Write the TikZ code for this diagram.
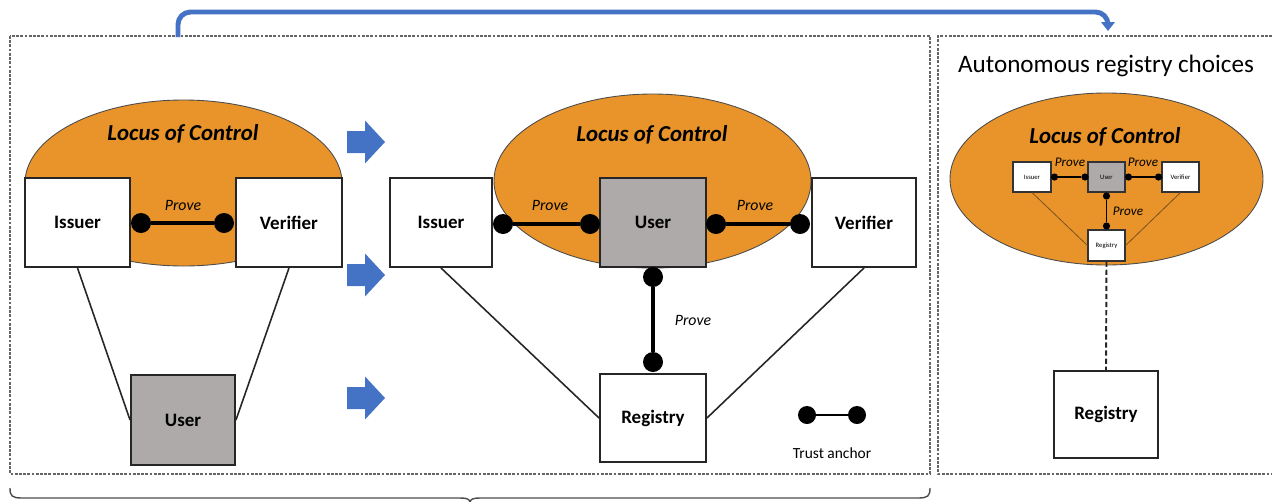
\documentclass[tikz,border=0pt]{standalone}
\usepackage{fontspec}
\setmainfont{Carlito}
\usetikzlibrary{arrows.meta}
\definecolor{locus}{RGB}{232,148,42}
\definecolor{usergrey}{RGB}{174,170,170}
\definecolor{flowblue}{RGB}{68,114,196}
\definecolor{thinbrown}{RGB}{120,80,30}
\newcommand\pxl{0.02cm}
\tikzset{
  box/.style={draw=black!85, line width=1.1pt, fill=white, inner sep=0pt,
    font=\fontsize{10.8}{12}\selectfont\bfseries},
  userbox/.style={box, fill=usergrey},
  smallbox/.style={draw=black!80, line width=0.6pt, fill=white, inner sep=0pt,
    font=\fontsize{3.8}{4}\selectfont},
  dot/.style={circle, fill=black, inner sep=0pt, minimum size=20*\pxl},
  smalldot/.style={circle, fill=black, inner sep=0pt, minimum size=7.2*\pxl},
  legdot/.style={circle, fill=black, inner sep=0pt, minimum size=18*\pxl},
  proveline/.style={line width=2.8pt},
  smallprove/.style={line width=1.1pt},
  provelabel/.style={font=\fontsize{9}{10}\selectfont\itshape},
  smalllabel/.style={font=\fontsize{7.5}{8}\selectfont\itshape},
  locustext/.style={font=\fontsize{13}{15}\selectfont\bfseries\itshape},
  locusfill/.style={fill=locus, draw=black!70, line width=0.5pt},
  tie/.style={line width=0.9pt, black!85},
  smalltie/.style={line width=0.45pt, thinbrown},
  panel/.style={line width=0.7pt, black!60, dash pattern=on 1.6pt off 0.8pt},
  blockarrow/.pic={\fill[flowblue] (0,-11) -- (18,-11) -- (18,-21.5) -- (38,0)
    -- (18,21.5) -- (18,11) -- (0,11) -- cycle;}
}
\begin{document}
\begin{tikzpicture}[x=0.02cm, y=-0.02cm]
\useasboundingbox (0,0) rectangle (1272,501);

% panel frames
\draw[panel] (10,36) rectangle (930,474);
\draw[panel] (1272,36) -- (938,36) -- (938,474) -- (1272,474);

% brace under the left panel
\draw[line width=0.8pt, black!70] (10,488) .. controls (10,496) and (12,498) .. (22,498)
  -- (460,498) .. controls (467,498) and (470,499) .. (470,503)
  .. controls (470,499) and (473,498) .. (480,498)
  -- (918,498) .. controls (928,498) and (930,496) .. (930,488);

% flow arrow from the left panel to the right panel
\coordinate (flowstart) at (178,37);
\coordinate (flowend) at (1108,31);
\draw[flowblue, line width=2.8pt, rounded corners=0.25cm,
  -{Triangle[width=7.5pt,length=5pt]}]
  (flowstart) -- (178,12) -- (1108,12) -- (flowend);

% ---------- first model ----------
\fill[locusfill] (183.5,183) ellipse [x radius=158.5, y radius=83];
\node[locustext] at (183,134) {Locus of Control};
\node[box, minimum width=105*\pxl, minimum height=89*\pxl] (iss1) at (77.5,222.5) {Issuer};
\node[box, minimum width=106*\pxl, minimum height=89*\pxl] (ver1) at (289,222.5) {Verifier};
\node[userbox, minimum width=104*\pxl, minimum height=90*\pxl] (usr1) at (183,420) {User};
\draw[tie] (iss1.south) -- (usr1.west);
\draw[tie] (ver1.south) -- (usr1.east);
\node[dot] (p1a) at (141,223) {};
\node[dot] (p1b) at (224,223) {};
\draw[proveline] (p1a) -- (p1b);
\node[provelabel] at (183,205) {Prove};

% transition arrows
\pic at (347,142) {blockarrow};
\pic at (347,275) {blockarrow};
\pic at (347,398) {blockarrow};

% ---------- second model ----------
\fill[locusfill] (652.5,181) ellipse [x radius=158.5, y radius=87];
\node[locustext] at (652,135) {Locus of Control};
\node[box, minimum width=102*\pxl, minimum height=89*\pxl] (iss2) at (441,222.5) {Issuer};
\node[userbox, minimum width=106*\pxl, minimum height=89*\pxl] (usr2) at (653,222.5) {User};
\node[box, minimum width=104*\pxl, minimum height=89*\pxl] (ver2) at (864,222.5) {Verifier};
\node[box, minimum width=106*\pxl, minimum height=88*\pxl] (reg2) at (653,418) {Registry};
\draw[tie] (iss2.south) -- (reg2.west);
\draw[tie] (ver2.south) -- (reg2.east);
\node[dot] (p2a) at (503,224) {};
\node[dot] (p2b) at (590,224) {};
\node[dot] (p2c) at (716,224) {};
\node[dot] (p2d) at (800,224) {};
\node[dot] (p2e) at (653,277) {};
\node[dot] (p2f) at (653,362) {};
\draw[proveline] (p2a) -- (p2b);
\draw[proveline] (p2c) -- (p2d);
\draw[proveline] (p2e) -- (p2f);
\node[provelabel] at (550,205) {Prove};
\node[provelabel] at (755,205) {Prove};
\node[provelabel] at (693,320) {Prove};

% legend
\node[legdot] (la) at (807,415) {};
\node[legdot] (lb) at (857,415) {};
\draw[line width=1.1pt] (la) -- (lb);
\node[font=\fontsize{8.8}{10}\selectfont] at (832,453) {Trust anchor};

% ---------- autonomous registry choices ----------
\node[font=\fontsize{14.3}{16}\selectfont] at (1106,66) {Autonomous registry choices};
\fill[locusfill] (1106.5,179) ellipse [x radius=156.5, y radius=86];
\node[locustext] at (1105,137) {Locus of Control};
\node[smallbox, minimum width=38*\pxl, minimum height=30*\pxl] (siss) at (1032,177) {Issuer};
\node[smallbox, fill=usergrey, minimum width=37*\pxl, minimum height=30*\pxl] (susr) at (1106.5,177) {User};
\node[smallbox, minimum width=37*\pxl, minimum height=30*\pxl] (sver) at (1180.5,177) {Verifier};
\node[smallbox, minimum width=37*\pxl, minimum height=31*\pxl] (sreg) at (1106.5,245.5) {Registry};
\draw[smalltie] (siss.south) -- (sreg.west);
\draw[smalltie] (sver.south) -- (sreg.east);
\node[smalldot] (s1) at (1054.5,177) {};
\node[smalldot] (s2) at (1085,177) {};
\node[smalldot] (s3) at (1128.5,177) {};
\node[smalldot] (s4) at (1158.5,177) {};
\node[smalldot] (s5) at (1106.5,196) {};
\node[smalldot] (s6) at (1106.5,226) {};
\draw[smallprove] (s1) -- (s2);
\draw[smallprove] (s3) -- (s4);
\draw[smallprove] (s5) -- (s6);
\node[smalllabel] at (1070,162) {Prove};
\node[smalllabel] at (1143,162) {Prove};
\node[smalllabel] at (1128,211) {Prove};
\node[box, minimum width=104*\pxl, minimum height=87*\pxl] (reg3) at (1106,414.5) {Registry};
\draw[line width=1.1pt, black!85, dash pattern=on 3pt off 1.6pt] (sreg.south) -- (reg3.north);
\end{tikzpicture}
\end{document}
